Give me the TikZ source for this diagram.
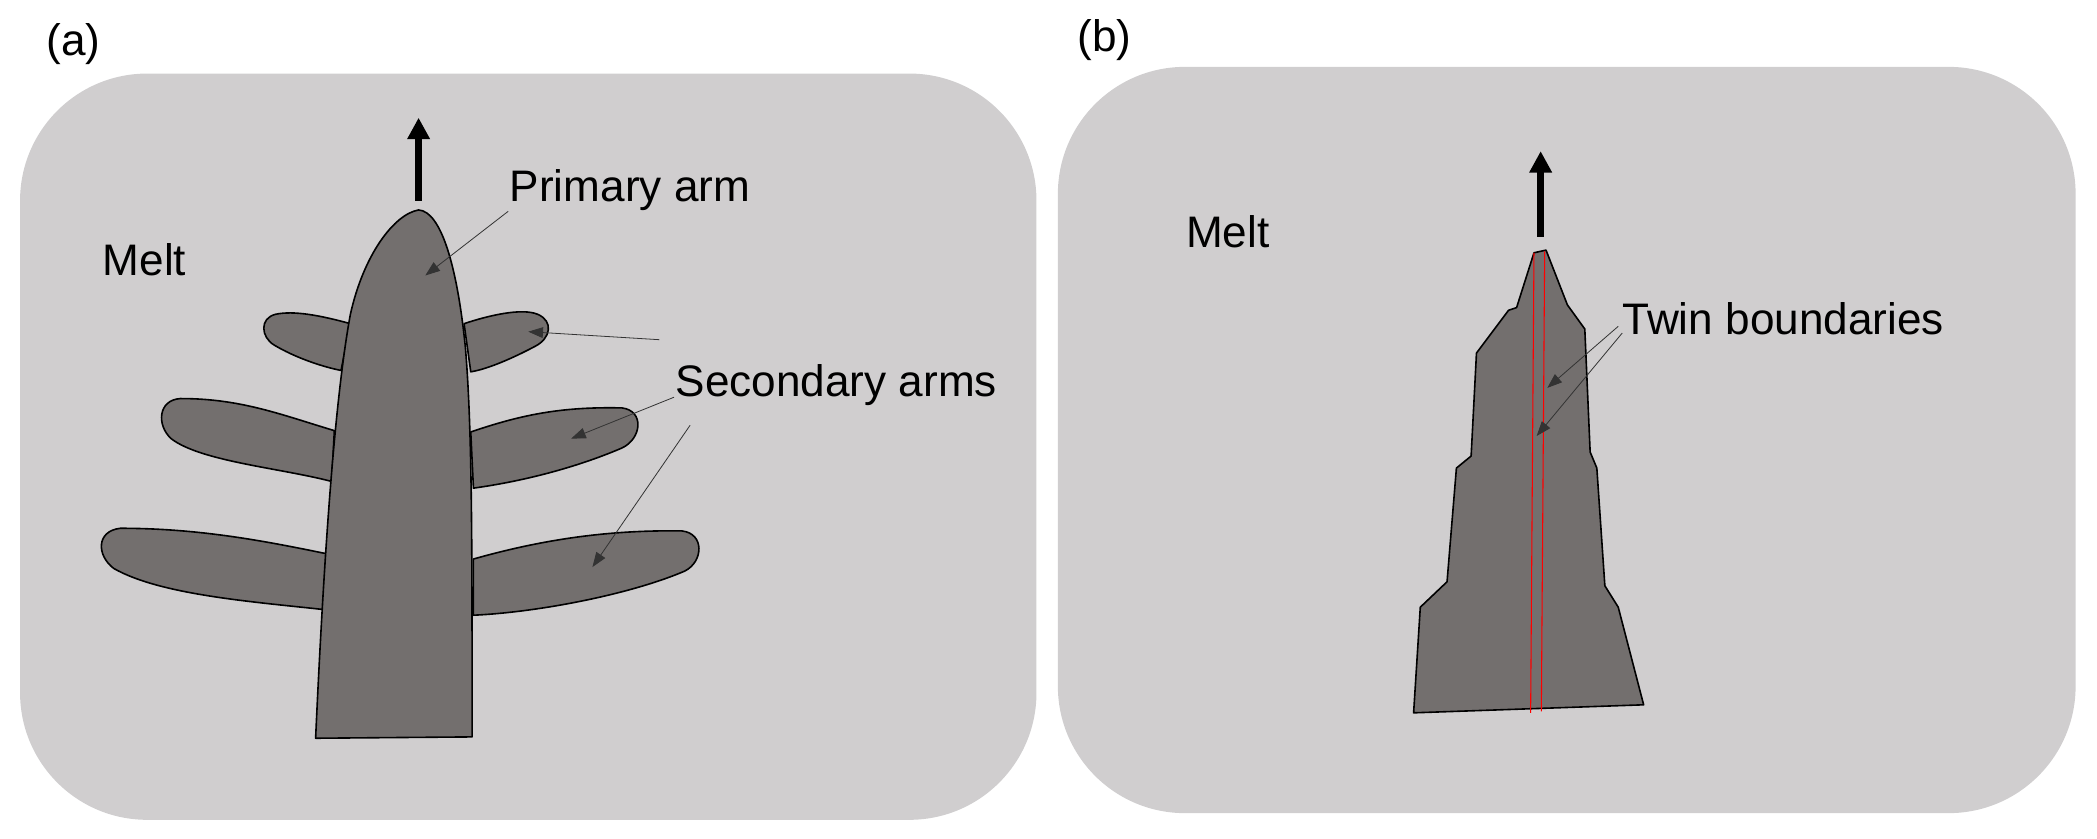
\documentclass[tikz,border=0pt]{standalone}
\usepackage{fontspec}
\setmainfont{Liberation Sans}
\usetikzlibrary{arrows.meta}
\definecolor{melt}{HTML}{D0CECF}
\definecolor{solid}{HTML}{736F6E}
\begin{document}
\begin{tikzpicture}[x=1pt,y=-1pt,
  panel/.style={fill=melt,draw=none,rounded corners=95pt},
  crys/.style={fill=solid,draw=black,line width=1.2pt,line join=round},
  lbl/.style={font=\fontsize{33}{38}\selectfont,inner sep=0pt},
  ann/.style={draw=black!80,line width=0.6pt,-{Triangle[length=11pt,width=8pt]}},
  growarrow/.style={line width=5pt,-{Triangle[length=16pt,width=16pt]}}]
\useasboundingbox (0,0) rectangle (1568,627);
\fill[panel] (15,55) rectangle (775,613);
\fill[panel] (791,50) rectangle (1552,608);
\node[lbl,anchor=center] (la) at (55,33) {(a)};
\node[lbl,anchor=center] (lb) at (826,30) {(b)};
\node[lbl,anchor=center] (ma) at (108,194) {Melt};
\node[lbl,anchor=center] (mb) at (918,173) {Melt};
% secondary arms (a)
\draw[crys] (262,242) .. controls (240,236) and (220,232) .. (206,235) .. controls (194,238) and (195,252) .. (205,258) .. controls (220,267) and (240,274) .. (255,277) -- cycle;
\draw[crys] (347,242) .. controls (365,236) and (390,230) .. (402,235) .. controls (414,240) and (412,253) .. (400,259) .. controls (385,267) and (365,276) .. (352,278) -- cycle;
\draw[crys] (250,322) .. controls (210,310) and (180,298) .. (135,298) .. controls (118,299) and (117,318) .. (128,328) .. controls (150,345) and (210,350) .. (248,360) -- cycle;
\draw[crys] (352,323) .. controls (390,310) and (420,304) .. (465,305) .. controls (482,307) and (480,328) .. (465,335) .. controls (430,350) and (390,360) .. (354,365) -- cycle;
\draw[crys] (244,414) .. controls (200,405) and (150,395) .. (90,395) .. controls (72,397) and (72,415) .. (85,425) .. controls (120,445) and (190,450) .. (244,456) -- cycle;
\draw[crys] (354,418) .. controls (400,405) and (450,396) .. (510,397) .. controls (527,399) and (526,420) .. (512,427) .. controls (470,445) and (400,458) .. (354,460) -- cycle;
% primary arm
\draw[crys] (236,552) .. controls (242,420) and (250,300) .. (262,235) .. controls (272,190) and (295,160) .. (313,157) .. controls (330,158) and (342,200) .. (348,260) .. controls (353,320) and (353,400) .. (353,551) -- cycle;
\draw[growarrow] (313,150) -- (313,88);
\node[lbl,anchor=west] (pa) at (381,142) {Primary arm};
\node[lbl,anchor=west] (sa) at (505,288) {Secondary arms};
\coordinate (p1) at (380,158); \coordinate (p1e) at (318,206);
\draw[ann] (p1) -- (p1e);
\coordinate (s0) at (493,254); \coordinate (s0e) at (395,248);
\draw[ann] (s0) -- (s0e);
\coordinate (s1) at (504,297); \coordinate (s1e) at (427,328);
\draw[ann] (s1) -- (s1e);
\coordinate (s2) at (516,318); \coordinate (s2e) at (443,424);
\draw[ann] (s2) -- (s2e);
% panel b crystal
\draw[crys] (1057,533) -- (1062,454) -- (1082,435) -- (1089,350) -- (1100,341) -- (1104,264) -- (1128,232) -- (1134,230) -- (1147,189) -- (1156,187) -- (1172,228) -- (1185,246) -- (1189,338) -- (1194,350) -- (1200,438) -- (1210,454) -- (1229,527) -- cycle;
\draw[red,line width=0.8pt] (1144.5,533) -- (1147,189);
\draw[red,line width=0.8pt] (1152.5,532) -- (1155,188);
\draw[growarrow] (1152,177) -- (1152,113);
\node[lbl,anchor=west] (tb) at (1213,238) {Twin boundaries};
\coordinate (t1) at (1210,244); \coordinate (t1e) at (1157,290);
\coordinate (t2) at (1213,249); \coordinate (t2e) at (1149,326);
\draw[ann] (t1) -- (t1e);
\draw[ann] (t2) -- (t2e);
\end{tikzpicture}
\end{document}
